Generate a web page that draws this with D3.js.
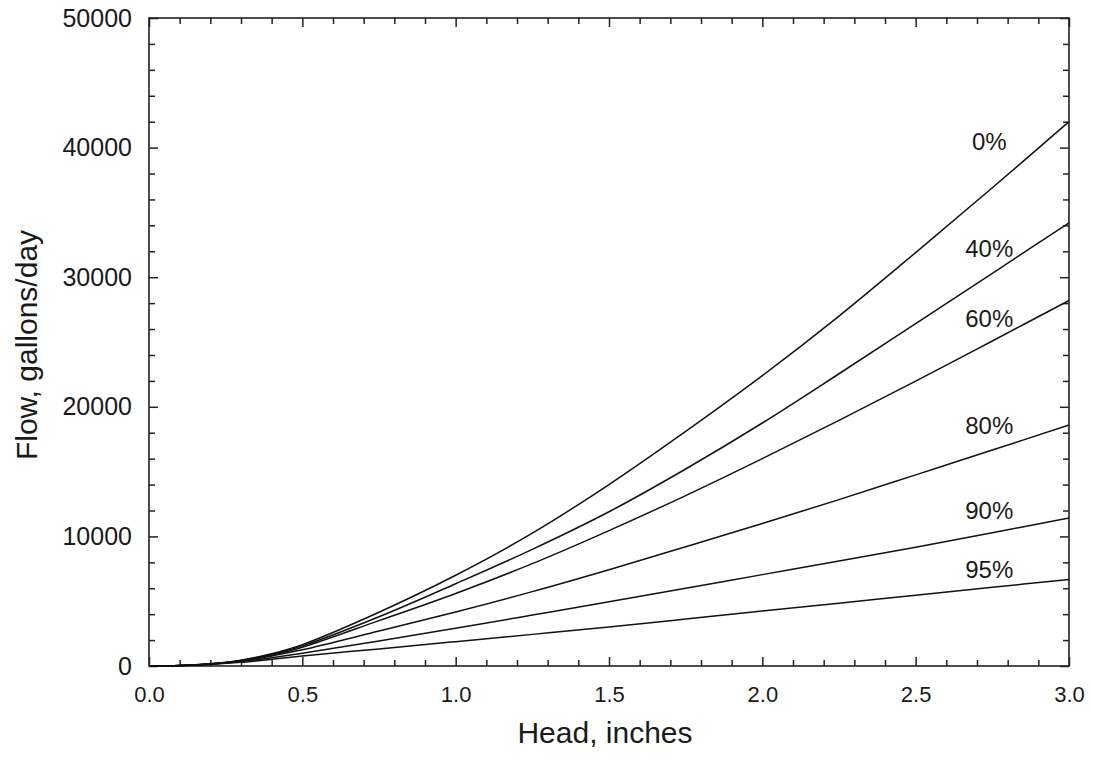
<!DOCTYPE html>
<html>
<head>
<meta charset="utf-8">
<script src="https://cdn.jsdelivr.net/npm/d3@7"></script>
<style>
  html, body { margin: 0; padding: 0; background: #fff; }
  svg { display: block; }
  text { font-family: "Liberation Sans", Arial, Helvetica, sans-serif; fill: #1a1a1a; }
</style>
</head>
<body>
<svg id="chart" width="1093" height="768"></svg>
<script>
// ---------- data ----------
const headInches = [0, 0.1, 0.2, 0.3, 0.4, 0.5, 0.75, 1.0, 1.25, 1.5, 1.75, 2.0, 2.25, 2.5, 2.75, 3.0];
const flow0  = [0, 30, 170, 450, 950, 1650, 4150, 7000, 10250, 14000, 18100, 22400, 27000, 31900, 36900, 42000];
const flow40 = [0, 30, 165, 430, 900, 1550, 3800, 6350, 9000, 11900, 15200, 18750, 22550, 26420, 30300, 34200];
const flow60 = [0, 30, 160, 410, 850, 1450, 3500, 5600, 7900, 10450, 13150, 16000, 18950, 21980, 25080, 28200];
const flow80 = [0, 30, 150, 380, 780, 1250, 2700, 4170, 5740, 7430, 9200, 10990, 12840, 14750, 16660, 18600];
const flow90 = [0, 30, 140, 340, 640, 980, 1930, 2920, 3930, 4950, 6000, 7050, 8100, 9170, 10280, 11420];
const flow95 = [0, 25, 120, 280, 520, 770, 1320, 1880, 2440, 3010, 3620, 4240, 4850, 5460, 6070, 6680];
const seriesNames = ["0%", "40%", "60%", "80%", "90%", "95%"];
const seriesValues = [flow0, flow40, flow60, flow80, flow90, flow95];
// label anchors (data units: head, flow at text baseline)
const labelHead = [2.74, 2.74, 2.74, 2.74, 2.74, 2.74];
const labelFlow = [39800, 31560, 26160, 17900, 11340, 6790];

const xMajorTicks = [0.0, 0.5, 1.0, 1.5, 2.0, 2.5, 3.0];
const xMinorTicks = d3.range(0, 31).map(i => i / 10).filter(v => Math.abs(v * 2 - Math.round(v * 2)) > 1e-9);
const yMajorTicks = [0, 10000, 20000, 30000, 40000, 50000];
const yMinorTicks = d3.range(0, 50001, 2000).filter(v => v % 10000 !== 0);

const xTitle = "Head, inches";
const yTitle = "Flow, gallons/day";

// ---------- layout ----------
const svg = d3.select("#chart");
const margin = { left: 149, top: 18, right: 1093 - 1069, bottom: 768 - 666 };
const W = 1093 - margin.left - margin.right;
const H = 768 - margin.top - margin.bottom;

const x = d3.scaleLinear().domain([0, 3]).range([0, W]);
const y = d3.scaleLinear().domain([0, 50000]).range([H, 0]);

const g = svg.append("g").attr("transform", `translate(${margin.left},${margin.top})`);

const axisColor = "#222";
const MAJ = 9, MIN = 6;

function styleAxis(sel) {
  sel.select(".domain").remove();
  sel.selectAll("line").attr("stroke", axisColor).attr("stroke-width", 1.5);
}

// bottom
g.append("g").attr("transform", `translate(0,${H})`)
  .call(d3.axisBottom(x).tickValues(xMajorTicks).tickSize(-MAJ).tickPadding(20).tickFormat(d3.format(".1f")))
  .call(styleAxis)
  .call(s => s.selectAll("text").attr("font-size", 22).attr("fill", "#1a1a1a"));
g.append("g").attr("transform", `translate(0,${H})`)
  .call(d3.axisBottom(x).tickValues(xMinorTicks).tickSize(-MIN).tickFormat(""))
  .call(styleAxis);
// top
g.append("g")
  .call(d3.axisTop(x).tickValues(xMajorTicks).tickSize(-MAJ).tickFormat(""))
  .call(styleAxis);
g.append("g")
  .call(d3.axisTop(x).tickValues(xMinorTicks).tickSize(-MIN).tickFormat(""))
  .call(styleAxis);
// left
g.append("g")
  .call(d3.axisLeft(y).tickValues(yMajorTicks).tickSize(-MAJ).tickPadding(17).tickFormat(d3.format("d")))
  .call(styleAxis)
  .call(s => s.selectAll("text").attr("font-size", 25).attr("fill", "#1a1a1a"));
g.append("g")
  .call(d3.axisLeft(y).tickValues(yMinorTicks).tickSize(-MIN).tickFormat(""))
  .call(styleAxis);
// right
g.append("g").attr("transform", `translate(${W},0)`)
  .call(d3.axisRight(y).tickValues(yMajorTicks).tickSize(-MAJ).tickFormat(""))
  .call(styleAxis);
g.append("g").attr("transform", `translate(${W},0)`)
  .call(d3.axisRight(y).tickValues(yMinorTicks).tickSize(-MIN).tickFormat(""))
  .call(styleAxis);

// frame
g.append("rect").attr("x", 0).attr("y", 0).attr("width", W).attr("height", H)
  .attr("fill", "none").attr("stroke", axisColor).attr("stroke-width", 1.6);

// curves
const line = d3.line().x(d => x(d[0])).y(d => y(d[1])).curve(d3.curveCatmullRom.alpha(0.5));
seriesValues.forEach((vals, i) => {
  const pts = headInches.map((h, j) => [h, vals[j]]);
  g.append("path").attr("d", line(pts))
    .attr("fill", "none").attr("stroke", "#111").attr("stroke-width", 1.5);
  g.append("text")
    .attr("x", x(labelHead[i])).attr("y", y(labelFlow[i]))
    .attr("text-anchor", "middle").attr("font-size", 24)
    .text(seriesNames[i]);
});

// titles
svg.append("text")
  .attr("x", 605).attr("y", 743)
  .attr("text-anchor", "middle").attr("font-size", 30)
  .text(xTitle);
svg.append("text")
  .attr("transform", `translate(37,345) rotate(-90)`)
  .attr("text-anchor", "middle").attr("font-size", 30)
  .text(yTitle);
</script>
</body>
</html>
